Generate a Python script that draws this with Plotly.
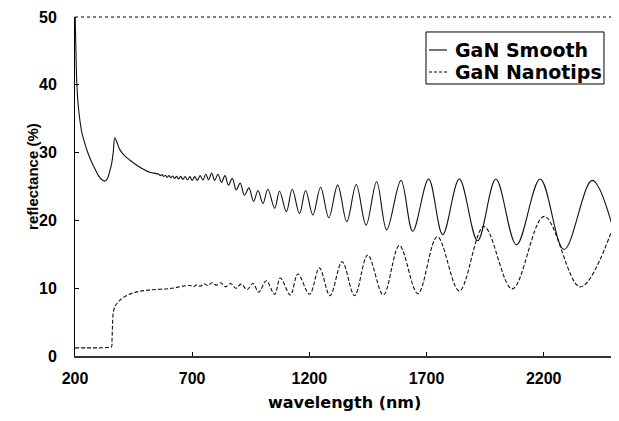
import plotly.graph_objects as go

# ---- data (wavelength nm, reflectance %) ----
smooth_wl = [200, 204, 208, 215, 229, 245, 260, 278, 300, 315, 328, 340, 350, 356, 363, 370,
             378, 392, 410, 434, 470, 519, 558, 564, 571, 578, 586, 593, 601, 609, 617, 625,
             634, 642, 651, 660, 670, 680, 690, 700, 711, 722, 734, 746, 758, 770, 783, 796,
             810, 825, 840, 855, 871, 888, 905, 923, 942, 962, 981, 1002, 1023, 1052, 1073,
             1102, 1127, 1158, 1184, 1215, 1248, 1283, 1321, 1360, 1400, 1442, 1487, 1530,
             1591, 1641, 1709, 1769, 1840, 1918, 1996, 2084, 2185, 2287, 2407, 2500]
smooth_r = [51.0, 45.0, 40.0, 36.5, 33.0, 31.0, 29.5, 28.1, 26.6, 26.0, 25.8, 26.3, 27.5, 28.3, 30.0, 32.2,
            31.6, 30.4, 29.6, 28.9, 28.0, 27.1, 26.8, 26.6, 26.75, 26.5, 26.65, 26.35, 26.6, 26.3, 26.55, 26.2,
            26.5, 26.1, 26.5, 26.05, 26.45, 25.95, 26.45, 25.9, 26.45, 25.9, 26.6, 25.95, 26.8, 26.0, 27.0, 25.9,
            26.8, 25.6, 26.6, 25.2, 26.2, 24.5, 25.5, 23.7, 24.8, 22.8, 24.4, 22.5, 24.6, 21.8, 24.3,
            21.3, 24.6, 21.0, 24.4, 20.8, 24.9, 20.4, 25.2, 19.8, 25.3, 19.3, 25.7, 18.6,
            25.9, 18.4, 26.1, 17.9, 26.1, 17.0, 26.1, 16.4, 26.1, 15.7, 25.9, 18.3]

tips_wl = [200, 250, 300, 340, 355, 358, 360, 363, 370, 383, 404, 447, 507, 605, 691, 705,
           719, 735, 751, 767, 785, 803, 822, 842, 864, 886, 909, 934, 960, 984, 1016, 1052,
           1076, 1119, 1151, 1201, 1243, 1288, 1340, 1393, 1449, 1516, 1584, 1663, 1746, 1840,
           1945, 2066, 2202, 2356, 2500]
tips_r = [1.2, 1.2, 1.2, 1.25, 1.3, 2.5, 4.5, 6.3, 7.3, 7.9, 8.6, 9.3, 9.7, 9.95, 10.4, 10.2,
          10.5, 10.3, 10.65, 10.4, 10.8, 10.45, 10.8, 10.2, 10.7, 10.0, 10.6, 9.8, 10.7, 9.4, 11.1, 9.1,
          11.5, 9.0, 12.1, 9.1, 13.0, 8.9, 13.9, 8.9, 14.9, 9.0, 16.3, 9.2, 17.6, 9.6,
          19.1, 9.9, 20.6, 10.2, 19.4]

series_names = ["GaN Smooth", "GaN Nanotips"]
x_ticks = [200, 700, 1200, 1700, 2200]
y_ticks = [0, 10, 20, 30, 40, 50]

FONT = "Liberation Sans"
WIDE = "DejaVu Sans"

fig = go.Figure()
fig.add_trace(go.Scatter(x=smooth_wl, y=smooth_r, mode="lines", name=series_names[0],
                         line=dict(color="#111111", width=1.1, shape="spline", smoothing=1.0)))
fig.add_trace(go.Scatter(x=tips_wl, y=tips_r, mode="lines", name=series_names[1],
                         line=dict(color="#111111", width=1.1, dash="4px,2px", shape="spline", smoothing=1.0)))

# page body has an 8px default margin, so the figure is sized/placed to compensate
fig.update_layout(
    width=611, height=413,
    margin=dict(l=67, r=5, t=9, b=65),
    paper_bgcolor="white", plot_bgcolor="white",
    font=dict(family=FONT, size=16, color="black", weight="bold"),
    showlegend=False,
)
fig.update_xaxes(range=[200, 2500], tickvals=x_ticks, ticktext=[str(v) for v in x_ticks],
                 automargin=False, ticklabeloverflow="allow",
                 showgrid=False, zeroline=False, showline=True, linecolor="#333333", linewidth=1.5,
                 ticks="inside", ticklen=4, tickcolor="black", ticklabelstandoff=7)
fig.update_yaxes(range=[0, 50], tickvals=y_ticks, ticktext=[str(v) for v in y_ticks],
                 automargin=False, ticklabeloverflow="allow",
                 showgrid=False, zeroline=False, showline=True, linecolor="black", linewidth=1,
                 ticks="inside", ticklen=4, tickcolor="black", ticklabelstandoff=14)

# axis titles
fig.add_annotation(text="wavelength (nm)", xref="paper", yref="paper", x=0.5, y=-0.1386,
                   xanchor="center", yanchor="middle", showarrow=False,
                   font=dict(family=WIDE, size=16, weight="bold", color="black"))
fig.add_annotation(text="reflectance (%)", xref="paper", yref="paper", x=-0.078, y=0.531,
                   xanchor="center", yanchor="middle", showarrow=False, textangle=-90,
                   font=dict(family=FONT, size=15, weight="bold", color="black"))

# dotted top and right frame
fig.add_shape(type="line", xref="paper", yref="paper", x0=0, x1=1, y0=1, y1=1,
              line=dict(color="black", width=1, dash="dot"))
fig.add_shape(type="line", xref="paper", yref="paper", x0=1, x1=1, y0=0, y1=1,
              line=dict(color="black", width=1, dash="dot"))

# legend box (drawn to match the reference's compact legend)
fig.add_shape(type="rect", xref="paper", yref="paper", x0=0.6512, x1=0.9814, y0=0.8024, y1=0.9558,
              line=dict(color="black", width=1), fillcolor="white", layer="above")
leg_y = [0.9027, 0.8378]
leg_dash = ["solid", "3px,2px"]
for name, yy, dd in zip(series_names, leg_y, leg_dash):
    fig.add_shape(type="line", xref="paper", yref="paper", x0=0.6568, x1=0.6902, y0=yy, y1=yy,
                  line=dict(color="black", width=1.1, dash=dd), layer="above")
    fig.add_annotation(text=name, xref="paper", yref="paper", x=0.7013, y=yy,
                       xanchor="left", yanchor="middle", showarrow=False,
                       font=dict(family=WIDE, size=19, weight="bold", color="black"))

fig.write_html("out.html")
